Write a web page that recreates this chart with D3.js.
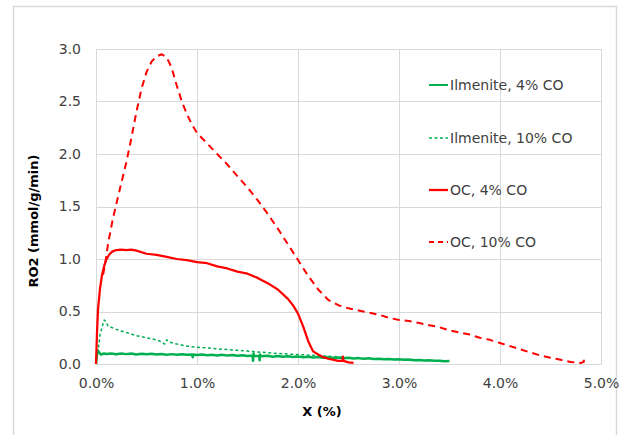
<!DOCTYPE html>
<html>
<head>
<meta charset="utf-8">
<script src="https://cdn.jsdelivr.net/npm/d3@7/dist/d3.min.js"></script>
<style>
  body { margin: 0; background: #fff; }
  svg { display: block; font-family: "DejaVu Sans", sans-serif; }
</style>
</head>
<body>
<svg id="chart" width="623" height="435"></svg>
<script>
// ---------- DATA ----------
const xTicks = [0, 1, 2, 3, 4, 5];
const yTicks = [0, 0.5, 1.0, 1.5, 2.0, 2.5, 3.0];
const seriesNames = ["Ilmenite, 4% CO", "Ilmenite, 10% CO", "OC, 4% CO", "OC, 10% CO"];

const ilmenite4 = [
  [0,0.0],[0.01,0.09],[0.02,0.13],[0.03,0.11],[0.05,0.09],[0.08,0.1],[0.1,0.095],[0.15,0.1],[0.2,0.092],
  [0.25,0.1],[0.3,0.094],[0.35,0.099],[0.4,0.091],[0.45,0.098],[0.5,0.093],[0.55,0.097],[0.6,0.09],
  [0.65,0.095],[0.7,0.088],[0.75,0.094],[0.8,0.089],[0.85,0.093],[0.9,0.087],[0.95,0.09],[0.958,0.065],
  [0.965,0.09],[1.0,0.086],[1.05,0.09],[1.1,0.084],[1.15,0.088],[1.2,0.082],[1.25,0.087],[1.3,0.08],
  [1.35,0.085],[1.4,0.078],[1.45,0.083],[1.5,0.077],[1.55,0.08],[1.555,0.03],[1.56,0.1],[1.565,0.075],
  [1.615,0.078],[1.62,0.035],[1.625,0.09],[1.63,0.074],[1.7,0.078],[1.75,0.07],[1.8,0.076],[1.85,0.069],[1.9,0.073],
  [1.95,0.066],[2.0,0.071],[2.05,0.064],[2.1,0.069],[2.15,0.062],[2.2,0.067],[2.25,0.06],[2.3,0.064],
  [2.35,0.057],[2.4,0.062],[2.45,0.055],[2.5,0.059],[2.55,0.052],[2.6,0.056],[2.65,0.05],[2.7,0.055],
  [2.75,0.047],[2.8,0.051],[2.85,0.045],[2.9,0.048],[2.95,0.042],[3.0,0.045],[3.05,0.04],[3.1,0.042],
  [3.15,0.036],[3.2,0.039],[3.25,0.033],[3.3,0.035],[3.35,0.03],[3.4,0.032],[3.45,0.027],[3.5,0.029]
];
const ilmenite10 = [
  [0,0],[0.02,0.12],[0.04,0.28],[0.06,0.35],[0.08,0.42],[0.1,0.4],[0.12,0.36],[0.15,0.35],[0.2,0.33],
  [0.3,0.3],[0.4,0.27],[0.5,0.25],[0.6,0.23],[0.65,0.21],[0.68,0.19],[0.7,0.23],[0.72,0.21],[0.8,0.19],
  [0.9,0.17],[1.0,0.16],[1.2,0.145],[1.4,0.13],[1.6,0.115],[1.8,0.1],[2.0,0.09],[2.2,0.08],[2.4,0.068],[2.5,0.06]
];
const oc4 = [
  [0,0],[0.01,0.3],[0.02,0.52],[0.04,0.72],[0.06,0.85],[0.08,0.93],[0.1,0.99],[0.13,1.04],[0.16,1.07],
  [0.2,1.085],[0.25,1.09],[0.3,1.085],[0.35,1.09],[0.4,1.08],[0.5,1.05],[0.6,1.04],[0.7,1.02],[0.8,1.0],
  [0.9,0.99],[1.0,0.97],[1.1,0.96],[1.2,0.93],[1.3,0.91],[1.4,0.88],[1.5,0.86],[1.6,0.82],[1.7,0.77],
  [1.8,0.71],[1.9,0.62],[1.95,0.56],[2.0,0.48],[2.05,0.36],[2.1,0.22],[2.15,0.12],[2.2,0.09],[2.25,0.065],
  [2.3,0.05],[2.4,0.03],[2.44,0.03],[2.445,0.07],[2.45,0.03],[2.5,0.015],[2.55,0.01]
];
const oc10 = [
  [0.07,0.85],[0.09,0.95],[0.12,1.15],[0.16,1.35],[0.2,1.52],[0.25,1.72],[0.3,1.92],[0.35,2.15],[0.4,2.4],
  [0.45,2.62],[0.5,2.78],[0.55,2.88],[0.6,2.93],[0.65,2.95],[0.7,2.92],[0.75,2.82],[0.8,2.65],[0.85,2.5],
  [0.9,2.38],[0.95,2.28],[1.0,2.2],[1.1,2.1],[1.2,2.0],[1.3,1.9],[1.4,1.79],[1.5,1.68],[1.6,1.56],[1.7,1.43],
  [1.8,1.29],[1.9,1.14],[2.0,0.99],[2.1,0.84],[2.2,0.71],[2.3,0.61],[2.4,0.56],[2.5,0.53],[2.6,0.51],
  [2.7,0.49],[2.8,0.47],[2.9,0.44],[3.0,0.42],[3.1,0.41],[3.2,0.39],[3.3,0.37],[3.4,0.35],[3.5,0.32],
  [3.6,0.3],[3.7,0.28],[3.8,0.25],[3.9,0.23],[4.0,0.2],[4.1,0.17],[4.2,0.14],[4.3,0.11],[4.4,0.08],
  [4.5,0.06],[4.6,0.04],[4.7,0.02],[4.8,0.01],[4.83,0.02],[4.83,0.07]
];

// ---------- CHART ----------
const svg = d3.select("#chart");
const mLeft = 96, mRight = 601, mTop = 49, mBottom = 364;
const x = d3.scaleLinear().domain([0, 5]).range([mLeft, mRight]);
const y = d3.scaleLinear().domain([0, 3]).range([mBottom, mTop]);

// outer border
svg.append("rect").attr("x", 13.5).attr("y", 6.5).attr("width", 603).attr("height", 440)
  .attr("fill", "none").attr("stroke", "#d9d9d9").attr("stroke-width", 1.5);

// gridlines
svg.append("g").selectAll("line").data(yTicks).join("line")
  .attr("x1", mLeft).attr("x2", mRight)
  .attr("y1", d => Math.round(y(d)) + 0.5).attr("y2", d => Math.round(y(d)) + 0.5)
  .attr("stroke", "#d9d9d9").attr("stroke-width", 1);
svg.append("g").selectAll("line").data(xTicks).join("line")
  .attr("y1", mTop).attr("y2", mBottom)
  .attr("x1", d => Math.round(x(d)) + 0.5).attr("x2", d => Math.round(x(d)) + 0.5)
  .attr("stroke", "#d9d9d9").attr("stroke-width", 1);

// axes
const yAxis = d3.axisLeft(y).tickValues(yTicks).tickFormat(d3.format(".1f")).tickSize(0).tickPadding(15);
const gy = svg.append("g").attr("transform", `translate(${mLeft},0)`).call(yAxis);
gy.select(".domain").remove();
gy.selectAll("text").attr("font-size", 14).attr("fill", "#404040").attr("font-family", "DejaVu Sans");

const xAxis = d3.axisBottom(x).tickValues(xTicks).tickFormat(d => d3.format(".1f")(d) + "%").tickSize(0).tickPadding(14);
const gx = svg.append("g").attr("transform", `translate(0,${mBottom})`).call(xAxis);
gx.select(".domain").attr("stroke", "#d9d9d9");
gx.selectAll("text").attr("font-size", 14).attr("fill", "#404040").attr("font-family", "DejaVu Sans");

// axis titles
svg.append("text").attr("x", 322).attr("y", 416).attr("text-anchor", "middle")
  .attr("font-size", 13).attr("font-weight", "bold").attr("fill", "#000").text("X (%)");
svg.append("text").attr("transform", "translate(38,221) rotate(-90)").attr("text-anchor", "middle")
  .attr("font-size", 13).attr("font-weight", "bold").attr("fill", "#000").text("RO2 (mmol/g/min)");

// series
const line = d3.line().x(d => x(d[0])).y(d => y(d[1]));
const styles = [
  { data: ilmenite4, color: "#00b050", width: 2.5, dash: null },
  { data: ilmenite10, color: "#00b050", width: 1.5, dash: "3,2.5" },
  { data: oc4, color: "#ff0000", width: 2.25, dash: null },
  { data: oc10, color: "#ff0000", width: 2, dash: "7,5" }
];
const drawOrder = [1, 0, 3, 2];
drawOrder.forEach(i => {
  const s = styles[i];
  svg.append("path").datum(s.data).attr("d", line)
    .attr("fill", "none").attr("stroke", s.color).attr("stroke-width", s.width)
    .attr("stroke-linejoin", "round")
    .attr("stroke-dasharray", s.dash);
});

// legend
const legendY = [85, 138, 190, 242];
const lg = svg.append("g");
seriesNames.forEach((name, i) => {
  const s = styles[i];
  lg.append("line").attr("x1", 429).attr("x2", 448).attr("y1", legendY[i]).attr("y2", legendY[i])
    .attr("stroke", s.color).attr("stroke-width", i === 0 ? 2 : s.width)
    .attr("stroke-dasharray", i === 3 ? "5,4" : s.dash);
  lg.append("text").attr("x", 450).attr("y", legendY[i] + 5).attr("font-size", 14)
    .attr("fill", "#404040").text(name);
});
</script>
</body>
</html>
